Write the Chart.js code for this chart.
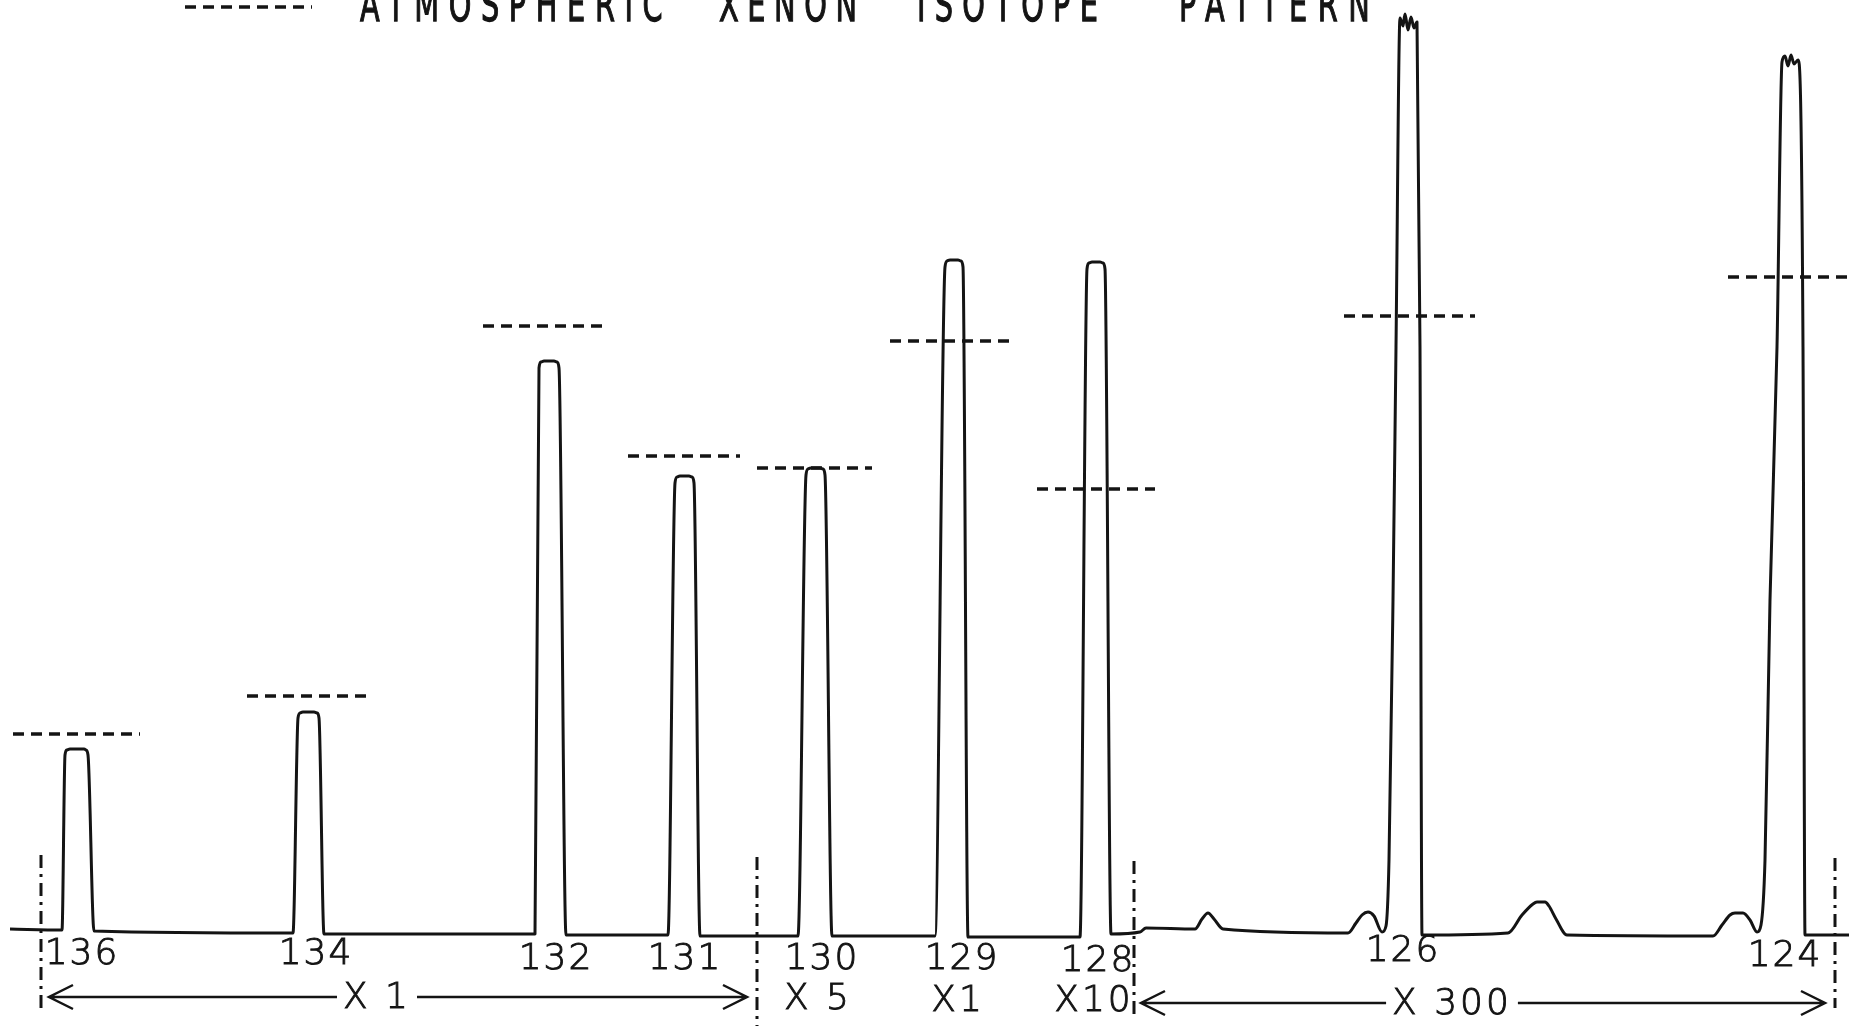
<!DOCTYPE html>
<html>
<head>
<meta charset="utf-8">
<script src="https://cdn.jsdelivr.net/npm/chart.js@4.4.1/dist/chart.umd.min.js"></script>
<style>
  html, body { margin: 0; padding: 0; background: #fff; overflow: hidden; }
  #wrap { width: 1849px; height: 1030px; }
</style>
</head>
<body>
<div id="wrap"><canvas id="spectrum"></canvas></div>
<script>
// recorder trace: scan position vs pen deflection (baseline ~ 0)
const traceX = [10, 62, 65, 67, 70, 84, 86, 88, 94,
  293, 298, 300, 303, 314, 317, 319, 324,
  535, 539, 541, 544, 554, 557, 559, 566,
  668, 675, 677, 680, 689, 692, 694, 700,
  798, 806, 808, 811, 820, 823, 825, 832,
  935, 945, 947, 950, 958, 961, 963, 968,
  1080, 1087, 1089, 1092, 1100, 1103, 1105, 1111,
  1140, 1146, 1195, 1202, 1208, 1214, 1223, 1348, 1356, 1362, 1368, 1374, 1382,
  1386, 1389, 1393, 1396, 1400, 1403, 1405, 1408, 1411, 1414, 1417, 1420, 1422,
  1508, 1522, 1533, 1537, 1545, 1549, 1556, 1567, 1713, 1722, 1730, 1735, 1743, 1750, 1757,
  1761, 1765, 1770, 1777, 1782, 1785, 1788, 1791, 1794, 1798, 1803, 1805, 1849];
const traceY = [2, 1, 176, 181, 182, 182, 181, 176, 0,
  -2, 213, 218, 219, 219, 218, 213, -3,
  -3, 563, 569, 570, 570, 569, 563, -4,
  -4, 448, 454, 455, 455, 454, 448, -5,
  -5, 456, 462, 463, 463, 462, 456, -5,
  -5, 664, 670, 671, 671, 670, 664, -6,
  -6, 662, 668, 669, 669, 668, 662, -3,
  -1, 3, 2, 12, 18, 12, 2, -2, 8, 16, 19, 15, -1,
  5, 71, 331, 584, 913, 905, 917, 901, 914, 903, 909, 584, -4,
  -2, 16, 27, 29, 29, 25, 12, -4, -5, 6, 16, 18, 18, 11, -1,
  6, 71, 331, 584, 869, 875, 865, 876, 867, 871, 584, -4, -4];

// dashed marks: atmospheric xenon isotope pattern
const masses     = ['136', '134', '132', '131', '130', '129', '128', '126', '124'];
const atmoFrom   = [13, 247, 483, 628, 757, 890, 1037, 1344, 1728];
const atmoTo     = [140, 372, 603, 740, 872, 1010, 1155, 1475, 1849];
const atmoLevel  = [197, 235, 605, 475, 463, 590, 442, 615, 654];

// mass labels under the peaks
const massLabelX = [82, 316, 556, 685, 822, 962, 1098, 1403, 1785];
const massLabelY = [-24, -24, -29, -29, -29, -29, -31, -21, -26];

// gain ranges
const boundaryX      = [41, 757, 1134, 1835];
const boundaryTop    = [76, 74, 70, 73];
const boundaryBottom = [-77, -95, -85, -77];
const gainLabels = ['X 1', 'X 5', 'X1', 'X10', 'X 300'];
const gainX      = [377, 818, 958, 1094, 1452];
const gainY      = [-68, -69, -71, -71, -74];
const spanFrom   = [49, 1141];
const spanTo     = [747, 1825];
const spanLabel  = [0, 4];

const ink = '#141414';

const trace = traceX.map((x, i) => ({ x, y: traceY[i] }));
const atmo = [];
atmoFrom.forEach((x0, i) => {
  atmo.push({ x: x0, y: atmoLevel[i] }, { x: atmoTo[i], y: atmoLevel[i] }, { x: atmoTo[i], y: null });
});
const bounds = [];
boundaryX.forEach((x, i) => {
  bounds.push({ x, y: boundaryTop[i] }, { x, y: boundaryBottom[i] }, { x, y: null });
});

function inkText(ctx, s, px, py) {
  ctx.fillText(s, px, py);
  ctx.strokeText(s, px, py);
}

const annotate = {
  id: 'annotate',
  afterDatasetsDraw(chart) {
    const { ctx, scales: { x, y } } = chart;
    ctx.save();
    ctx.fillStyle = ink;
    ctx.strokeStyle = ink;

    // title + legend sample
    ctx.lineWidth = 3.5;
    ctx.setLineDash([11, 7]);
    ctx.beginPath();
    ctx.moveTo(185, 7);
    ctx.lineTo(312, 7);
    ctx.stroke();
    ctx.setLineDash([]);
    const words = [['ATMOSPHERIC', 360, 663], ['XENON', 719, 857], ['ISOTOPE', 917, 1098], ['PATTERN', 1179, 1370]];
    ctx.font = "36px 'DejaVu Sans'";
    ctx.textAlign = 'left';
    ctx.textBaseline = 'alphabetic';
    const sx = 0.8;
    words.forEach(([w, l, r]) => {
      ctx.letterSpacing = '0px';
      const tw0 = ctx.measureText(w).width;
      const sp = ((r - l) / sx - tw0) / (w.length - 1);
      ctx.letterSpacing = sp.toFixed(1) + 'px';
      ctx.save();
      ctx.translate(l, 21);
      ctx.scale(sx, 1.3);
      ctx.lineWidth = 1;
      inkText(ctx, w, 0, 0);
      ctx.restore();
    });

    // mass numbers
    ctx.font = "200 36px 'DejaVu Sans'";
    ctx.lineWidth = 0.9;
    ctx.letterSpacing = '2px';
    ctx.textAlign = 'center';
    ctx.textBaseline = 'middle';
    masses.forEach((m, i) => {
      inkText(ctx, m, x.getPixelForValue(massLabelX[i]), y.getPixelForValue(massLabelY[i]));
    });

    // gains
    ctx.letterSpacing = '3px';
    gainLabels.forEach((g, i) => {
      inkText(ctx, g, x.getPixelForValue(gainX[i]), y.getPixelForValue(gainY[i]));
    });

    // range arrows
    ctx.lineWidth = 2.5;
    spanFrom.forEach((x0v, i) => {
      const k = spanLabel[i];
      const yy = y.getPixelForValue(gainY[k]) - 2;
      const x0 = x.getPixelForValue(x0v), x1 = x.getPixelForValue(spanTo[i]);
      const cx = x.getPixelForValue(gainX[k]);
      const half = ctx.measureText(gainLabels[k]).width / 2 + 6;
      ctx.beginPath();
      ctx.moveTo(x0, yy); ctx.lineTo(cx - half, yy);
      ctx.moveTo(cx + half, yy); ctx.lineTo(x1, yy);
      ctx.moveTo(x0 + 24, yy - 12); ctx.lineTo(x0, yy); ctx.lineTo(x0 + 24, yy + 12);
      ctx.moveTo(x1 - 24, yy - 12); ctx.lineTo(x1, yy); ctx.lineTo(x1 - 24, yy + 12);
      ctx.stroke();
    });
    ctx.restore();
  }
};

new Chart(document.getElementById('spectrum'), {
  type: 'line',
  data: {
    datasets: [
      { label: 'trace', data: trace, borderColor: ink, borderWidth: 3, pointRadius: 0,
        cubicInterpolationMode: 'monotone', borderJoinStyle: 'round' },
      { label: 'atmospheric', data: atmo, borderColor: ink, borderWidth: 3.5, borderDash: [11, 7], pointRadius: 0 },
      { label: 'ranges', data: bounds, borderColor: ink, borderWidth: 3, borderDash: [13, 6, 3, 6], pointRadius: 0 }
    ]
  },
  options: {
    responsive: true,
    maintainAspectRatio: false,
    animation: false,
    layout: { padding: 0 },
    plugins: { legend: { display: false }, tooltip: { enabled: false } },
    scales: {
      x: { type: 'linear', min: 0, max: 1849, display: false },
      y: { type: 'linear', min: -99, max: 931, display: false }
    }
  },
  plugins: [annotate]
});
</script>
</body>
</html>
